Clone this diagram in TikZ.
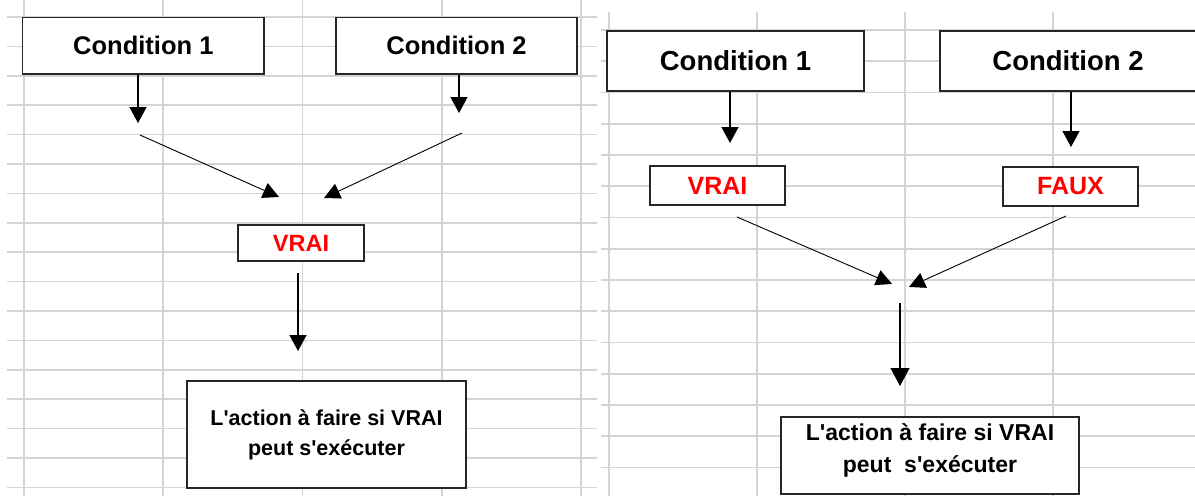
\documentclass[tikz,border=0pt]{standalone}
\usepackage{fontspec}
\newfontfamily\arial{Liberation Sans}
\usetikzlibrary{arrows.meta}
\definecolor{gridgray}{HTML}{D4D4D4}
\definecolor{xred}{HTML}{FF0000}
\begin{document}
\begin{tikzpicture}[x=1pt,y=-1pt,
  gridline/.style={draw=gridgray, line width=1.6pt},
  box/.style={draw=black!85, line width=1.4pt, fill=white, inner sep=0pt, font=\arial\bfseries, align=center},
  arr/.style={draw=black, line width=1.4pt, -{Triangle[width=17pt,length=16pt]}},
  darr/.style={draw=black, line width=0.9pt, -{Triangle[width=16pt,length=16pt]}},
  redtxt/.style={text=xred}
]
\useasboundingbox (0,0) rectangle (1195,496);
\fill[white] (0,0) rectangle (1195,496);
% ---------- left grid
\foreach \k in {0,...,16} \draw[gridline] (7,{17+29.4*\k}) -- (597,{17+29.4*\k});
\foreach \k in {0,...,4} \draw[gridline] ({24+139.25*\k},0) -- ({24+139.25*\k},496);
% ---------- right grid
\foreach \k in {0,...,14} \draw[gridline] (601,{30+31.25*\k}) -- (1195,{30+31.25*\k});
\foreach \k in {0,...,3} \draw[gridline] ({609+148*\k},12) -- ({609+148*\k},496);

% ---------- left panel
\node[box, minimum width=241.3pt, minimum height=56.3pt, font=\arial\bfseries\fontsize{25.5}{30}\selectfont] (c1) at (143.35,45.85) {Condition 1};
\node[box, minimum width=241pt, minimum height=56.3pt, font=\arial\bfseries\fontsize{25.5}{30}\selectfont] (c2) at (456.5,45.85) {Condition 2};
\node[box, redtxt, minimum width=126pt, minimum height=36pt, font=\arial\bfseries\fontsize{23.5}{28}\selectfont] (v1) at (301,243) {VRAI};
\node[box, minimum width=279pt, minimum height=107pt, font=\arial\bfseries\fontsize{21.5}{30}\selectfont] (act1) at (326.5,434.5) {L'action à faire si VRAI\\peut s'exécuter};

\coordinate (a1) at (138,123);
\coordinate (a2) at (459,113);
\coordinate (d1s) at (140,135);
\coordinate (d1e) at (279,197);
\coordinate (d2s) at (462,133);
\coordinate (d2e) at (324,198);
\coordinate (vs) at (298,273);
\coordinate (ve) at (298,351);
\draw[arr] (c1.south -| a1) -- (a1);
\draw[arr] (c2.south -| a2) -- (a2);
\draw[darr] (d1s) -- (d1e);
\draw[darr] (d2s) -- (d2e);
\draw[arr] (vs) -- (ve);

% ---------- right panel
\node[box, minimum width=257pt, minimum height=60pt, font=\arial\bfseries\fontsize{27.5}{32}\selectfont] (c1r) at (735.5,61) {Condition 1};
\node[box, minimum width=256pt, minimum height=60pt, font=\arial\bfseries\fontsize{27.5}{32}\selectfont] (c2r) at (1068,61) {Condition 2};
\node[box, redtxt, minimum width=135pt, minimum height=39pt, font=\arial\bfseries\fontsize{25}{30}\selectfont] (v2) at (717.5,185.5) {VRAI};
\node[box, redtxt, minimum width=135pt, minimum height=39pt, font=\arial\bfseries\fontsize{25}{30}\selectfont] (f2) at (1070.5,186.5) {FAUX};
\node[box, minimum width=298pt, minimum height=77pt] (act2) at (930,455.5) {};
\node[font=\arial\bfseries\fontsize{23}{32}\selectfont, align=center, inner sep=0pt] (act2t) at (930,450) {L'action à faire si VRAI\\peut~~s'exécuter};

\coordinate (b1) at (730,143);
\coordinate (b2) at (1071,147);
\coordinate (e1s) at (737,217);
\coordinate (e1e) at (892,284);
\coordinate (e2s) at (1066,216);
\coordinate (e2e) at (909,287);
\coordinate (ws) at (900,303);
\coordinate (we) at (900,386);
\draw[arr] (c1r.south -| b1) -- (b1);
\draw[arr] (c2r.south -| b2) -- (b2);
\draw[darr] (e1s) -- (e1e);
\draw[darr] (e2s) -- (e2e);
\draw[arr, -{Triangle[width=19pt,length=18pt]}] (ws) -- (we);
\end{tikzpicture}
\end{document}
